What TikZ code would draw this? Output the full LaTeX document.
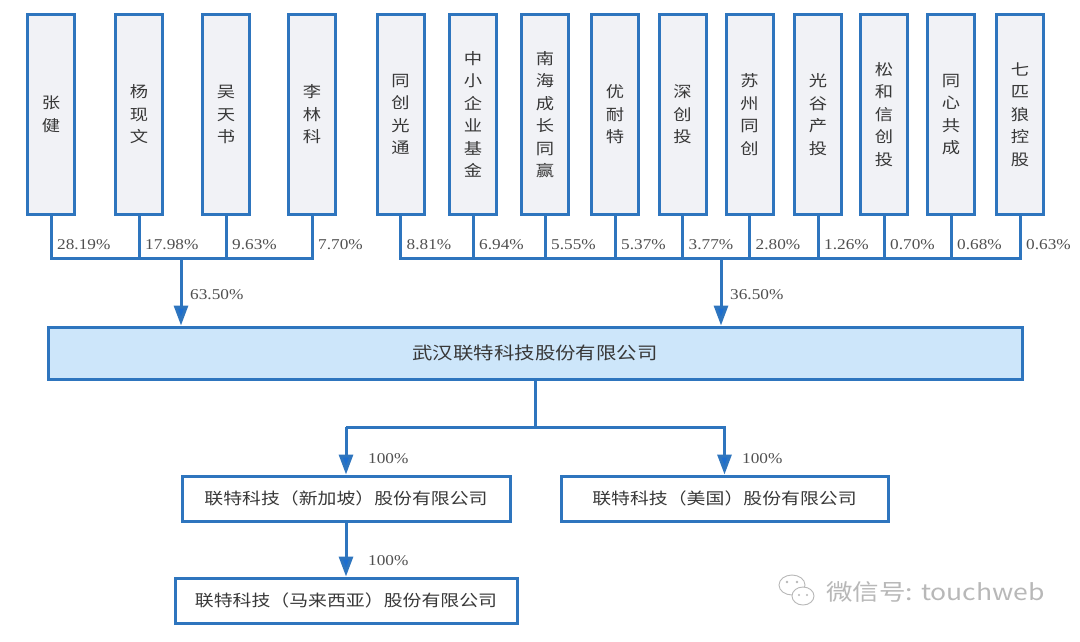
\documentclass[tikz,border=0pt]{standalone}
\usepackage{fontspec}
\usetikzlibrary{arrows.meta}
\newfontfamily\cjk[FakeStretch=1.18]{Noto Sans CJK SC}
\newfontfamily\pctf[FakeStretch=1.15]{Liberation Serif}
\definecolor{bl}{HTML}{2E75BE}
\definecolor{tipc}{HTML}{1C6ED0}
\definecolor{boxgray}{HTML}{F1F2F6}
\definecolor{mainfill}{HTML}{CDE6FA}
\definecolor{txt}{HTML}{383838}
\definecolor{pctc}{HTML}{505050}
\definecolor{wm}{HTML}{B8B8B8}
\begin{document}
\begin{tikzpicture}[x=1pt,y=-1pt,
  lbox/.style={draw=bl, fill=boxgray, line width=3pt, minimum width=47pt, minimum height=200pt,
    inner sep=0pt, align=center, text=txt, font={\cjk\fontsize{15.5}{22.5}\selectfont}},
  mainbox/.style={draw=bl, fill=mainfill, line width=3pt, minimum width=974pt, minimum height=52pt,
    inner sep=0pt, text=txt, font={\cjk\fontsize{17.3}{20}\selectfont}},
  subbox/.style={draw=bl, fill=white, line width=3pt, minimum height=45pt,
    inner sep=0pt, text=txt, font={\cjk\fontsize{16}{19}\selectfont}},
  conn/.style={draw=bl, line width=3pt, line join=miter},
  arr/.style={conn, -{Triangle[width=14pt,length=20pt,fill=tipc]}},
  pct/.style={text=pctc, font={\pctf\fontsize{15}{17}\selectfont}, inner sep=0pt, anchor=west},
]
\useasboundingbox (0,0) rectangle (1080,641);
\fill[white] (0,0) rectangle (1080,641);

% shareholder boxes, left group
\foreach \i/\x/\t in {1/51/{张\\健},2/139/{杨\\现\\文},3/226/{吴\\天\\书},4/312/{李\\林\\科}}
  \node[lbox] (a\i) at (\x,114.5) {\t};
% shareholder boxes, right group
\foreach \i/\x/\t in {1/400.5/{同\\创\\光\\通},2/473/{中\\小\\企\\业\\基\\金},3/545/{南\\海\\成\\长\\同\\赢},
  4/615/{优\\耐\\特},5/682.5/{深\\创\\投},6/749.5/{苏\\州\\同\\创},7/818/{光\\谷\\产\\投},
  8/884/{松\\和\\信\\创\\投},9/951/{同\\心\\共\\成},10/1020/{七\\匹\\狼\\控\\股}}
  \node[lbox] (b\i) at (\x,114.5) {\t};

\coordinate (busy) at (0,258);
\coordinate (laby) at (0,245);

% main company
\node[mainbox] (main) at (535,353) {武汉联特科技股份有限公司};

% left bus
\draw[conn] (a1.south) -- (a1.south|-busy) -- (a4.south|-busy) -- (a4.south);
\foreach \i in {2,3} \draw[conn] (a\i.south) -- (a\i.south|-busy);
\foreach \i/\p in {1/28.19,2/17.98,3/9.63,4/7.70}
  \path (a\i.south|-laby) node[pct, xshift=6pt] (pa\i) {\p\%};
\coordinate (lj) at (181,258);
\draw[arr] (lj) -- (main.north-|lj);
\node[pct] (pl) at (190,295) {63.50\%};

% right bus
\draw[conn] (b1.south) -- (b1.south|-busy) -- (b10.south|-busy) -- (b10.south);
\foreach \i in {2,...,9} \draw[conn] (b\i.south) -- (b\i.south|-busy);
\foreach \i/\p in {1/8.81,2/6.94,3/5.55,4/5.37,5/3.77,6/2.80,7/1.26,8/0.70,9/0.68,10/0.63}
  \path (b\i.south|-laby) node[pct, xshift=6pt] (pb\i) {\p\%};
\coordinate (rj) at (721,258);
\draw[arr] (rj) -- (main.north-|rj);
\node[pct] (pr) at (730,295) {36.50\%};

% subsidiaries
\node[subbox, minimum width=328pt] (s1) at (346,498.5) {联特科技（新加坡）股份有限公司};
\node[subbox, minimum width=327pt] (s2) at (724.5,498.5) {联特科技（美国）股份有限公司};
\node[subbox, minimum width=342pt] (s3) at (346,600.5) {联特科技（马来西亚）股份有限公司};

\coordinate (bry) at (0,427);
\draw[conn] (main.south) -- (main.south|-bry);
\draw[arr] (s1.north|-bry) -- (s2.north|-bry) -- (s2.north);
\draw[arr] (s1.north|-bry) -- (s1.north);
\draw[arr] (s1.south) -- (s3.north);
\node[pct] (q1) at (368,459) {100\%};
\node[pct] (q2) at (742,459) {100\%};
\node[pct] (q3) at (368,561) {100\%};

% watermark
\draw[wm, line width=0.9pt] (792,585) ellipse (13 and 10);
\draw[wm, line width=0.9pt, fill=white] (803,596) ellipse (11 and 9);
\fill[wm] (787,582) circle (1.3) (797,582) circle (1.3) (799,595) circle (1.2) (807,595) circle (1.2);
\node[text=wm, font={\cjk\fontsize{22.5}{27}\selectfont}, anchor=west, inner sep=0pt] (wmt) at (826,592) {微信号: touchweb};
\end{tikzpicture}
\end{document}
